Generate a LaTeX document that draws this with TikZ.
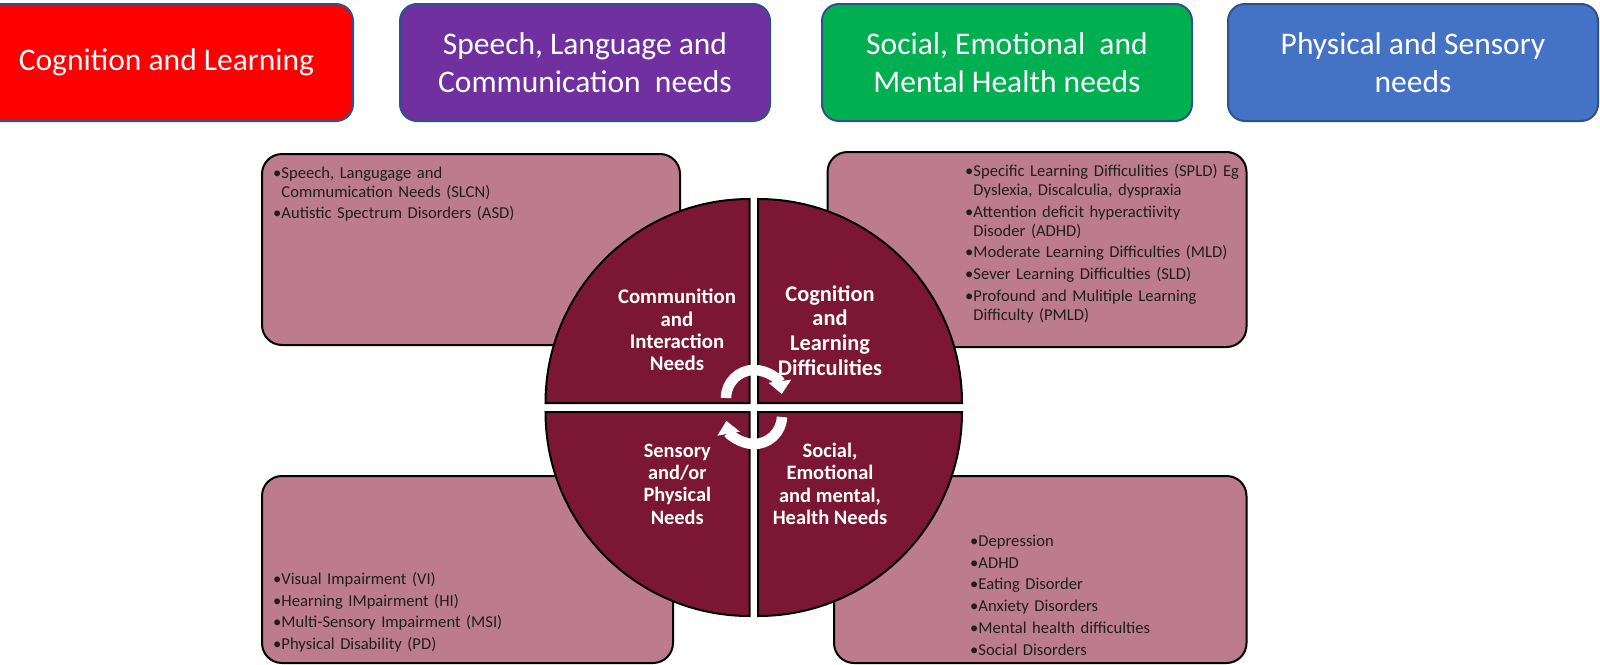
\documentclass[tikz,border=0pt]{standalone}
\usepackage{fontspec}
\setmainfont{Carlito}
\usetikzlibrary{arrows.meta}
\definecolor{cred}{HTML}{FF0000}
\definecolor{cpurple}{HTML}{7030A0}
\definecolor{cgreen}{HTML}{00B050}
\definecolor{cblue}{HTML}{4472C4}
\definecolor{cborder}{HTML}{2F528F}
\definecolor{pinkfill}{HTML}{BC7C8E}
\definecolor{maroonfill}{HTML}{7B1734}
\definecolor{itemtext}{HTML}{1E1E1E}
\newcommand\bitem[1]{\setbox0\hbox{•}\hangindent=\wd0\hangafter=1\noindent\strut•#1\par}
\begin{document}
\begin{tikzpicture}[x=1pt,y=-1pt,
  topbox/.style={draw=cborder, line width=2pt, rounded corners=17pt,
    minimum width=370pt, minimum height=117pt, text=white, align=center,
    font=\fontsize{31.5}{38}\selectfont, inner sep=0pt},
  pinkbox/.style={draw=black, line width=2pt, fill=pinkfill, rounded corners=20pt, inner sep=0pt},
  items/.style={anchor=north west, inner sep=0pt, text width=330pt, align=left, text=itemtext,
    font={\fontsize{16.6}{19}\selectfont\setlength\parskip{2.7pt}}},
  quad/.style={draw=black, line width=2pt, fill=maroonfill},
  quadtext/.style={text=white, align=center, inner sep=0pt},
  cyc/.style={draw=white, line width=10.5pt, -{Triangle[length=13pt, width=22pt]}}
]
\fill[white] (0,0) rectangle (1600,664);
\useasboundingbox (0,0) rectangle (1600,664);

% top category boxes
\node[topbox, fill=cred, minimum width=373pt] (cl) at (166.5,62.5) {Cognition and Learning};
\node[topbox, fill=cpurple] (slc) at (585,62.5) {Speech, Language and\\Communication~ needs};
\node[topbox, fill=cgreen] (semh) at (1007,62.5) {Social, Emotional~ and\\Mental Health needs};
\node[topbox, fill=cblue] (ps) at (1413,62.5) {Physical and Sensory\\needs};

% pink boxes
\node[pinkbox, minimum width=418pt, minimum height=191pt] (ulbox) at (471,249.5) {};
\node[pinkbox, minimum width=419pt, minimum height=195pt] (urbox) at (1037,249.5) {};
\node[pinkbox, minimum width=411pt, minimum height=187pt] (llbox) at (467.5,569.5) {};
\node[pinkbox, minimum width=412.5pt, minimum height=187pt] (lrbox) at (1040.25,569.5) {};

\node[items] (ultext) at (273,164.5) {\bitem{Speech, Langugage and\newline Commumication Needs (SLCN)}\bitem{Autistic Spectrum Disorders (ASD)}};
\node[items] (urtext) at (965,163) {\bitem{Specific Learning Difficulities (SPLD) Eg\newline Dyslexia, Discalculia, dyspraxia}\bitem{Attention deficit hyperactiivity\newline Disoder (ADHD)}\bitem{Moderate Learning Difficulties (MLD)}\bitem{Sever Learning Difficulties (SLD)}\bitem{Profound and Mulitiple Learning\newline Difficulty (PMLD)}};
\node[items] (lltext) at (273,571) {\bitem{Visual Impairment (VI)}\bitem{Hearning IMpairment (HI)}\bitem{Multi-Sensory Impairment (MSI)}\bitem{Physical Disability (PD)}};
\node[items] (lrtext) at (970,533) {\bitem{Depression}\bitem{ADHD}\bitem{Eating Disorder}\bitem{Anxiety Disorders}\bitem{Mental health difficulties}\bitem{Social Disorders}};

% quadrants
\draw[quad] (749.5,403) -- ++(-204,0) arc[start angle=180, end angle=270, radius=204] -- cycle;
\draw[quad] (758,403) -- ++(0,-204) arc[start angle=270, end angle=360, radius=204] -- cycle;
\draw[quad] (749.5,412) -- ++(-204,0) arc[start angle=180, end angle=90, radius=204] -- cycle;
\draw[quad] (758,412) -- ++(204,0) arc[start angle=0, end angle=90, radius=204] -- cycle;

\node[quadtext, font=\bfseries\fontsize{20.8}{22.4}\selectfont] (ci) at (677,330) {Communition\\and\\Interaction\\Needs};
\node[quadtext, font=\bfseries\fontsize{22.4}{24.7}\selectfont] (cld) at (830,330.5) {Cognition\\and\\Learning\\Difficulities};
\node[quadtext, font=\bfseries\fontsize{20.4}{22.4}\selectfont] (spn) at (677.3,484) {Sensory\\and/or\\Physical\\Needs};
\node[quadtext, font=\bfseries\fontsize{20.5}{22.4}\selectfont] (sehn) at (830,484) {Social,\\Emotional\\and mental,\\Health Needs};

% circular arrows
\coordinate (cyctop) at (754,398);
\coordinate (cycbot) at (754,416);
\draw[cyc] (cyctop) ++(180:28) arc[start angle=180, end angle=352, radius=28];
\draw[cyc] (cycbot) ++(2:28) arc[start angle=2, end angle=170, radius=28];
\end{tikzpicture}
\end{document}
